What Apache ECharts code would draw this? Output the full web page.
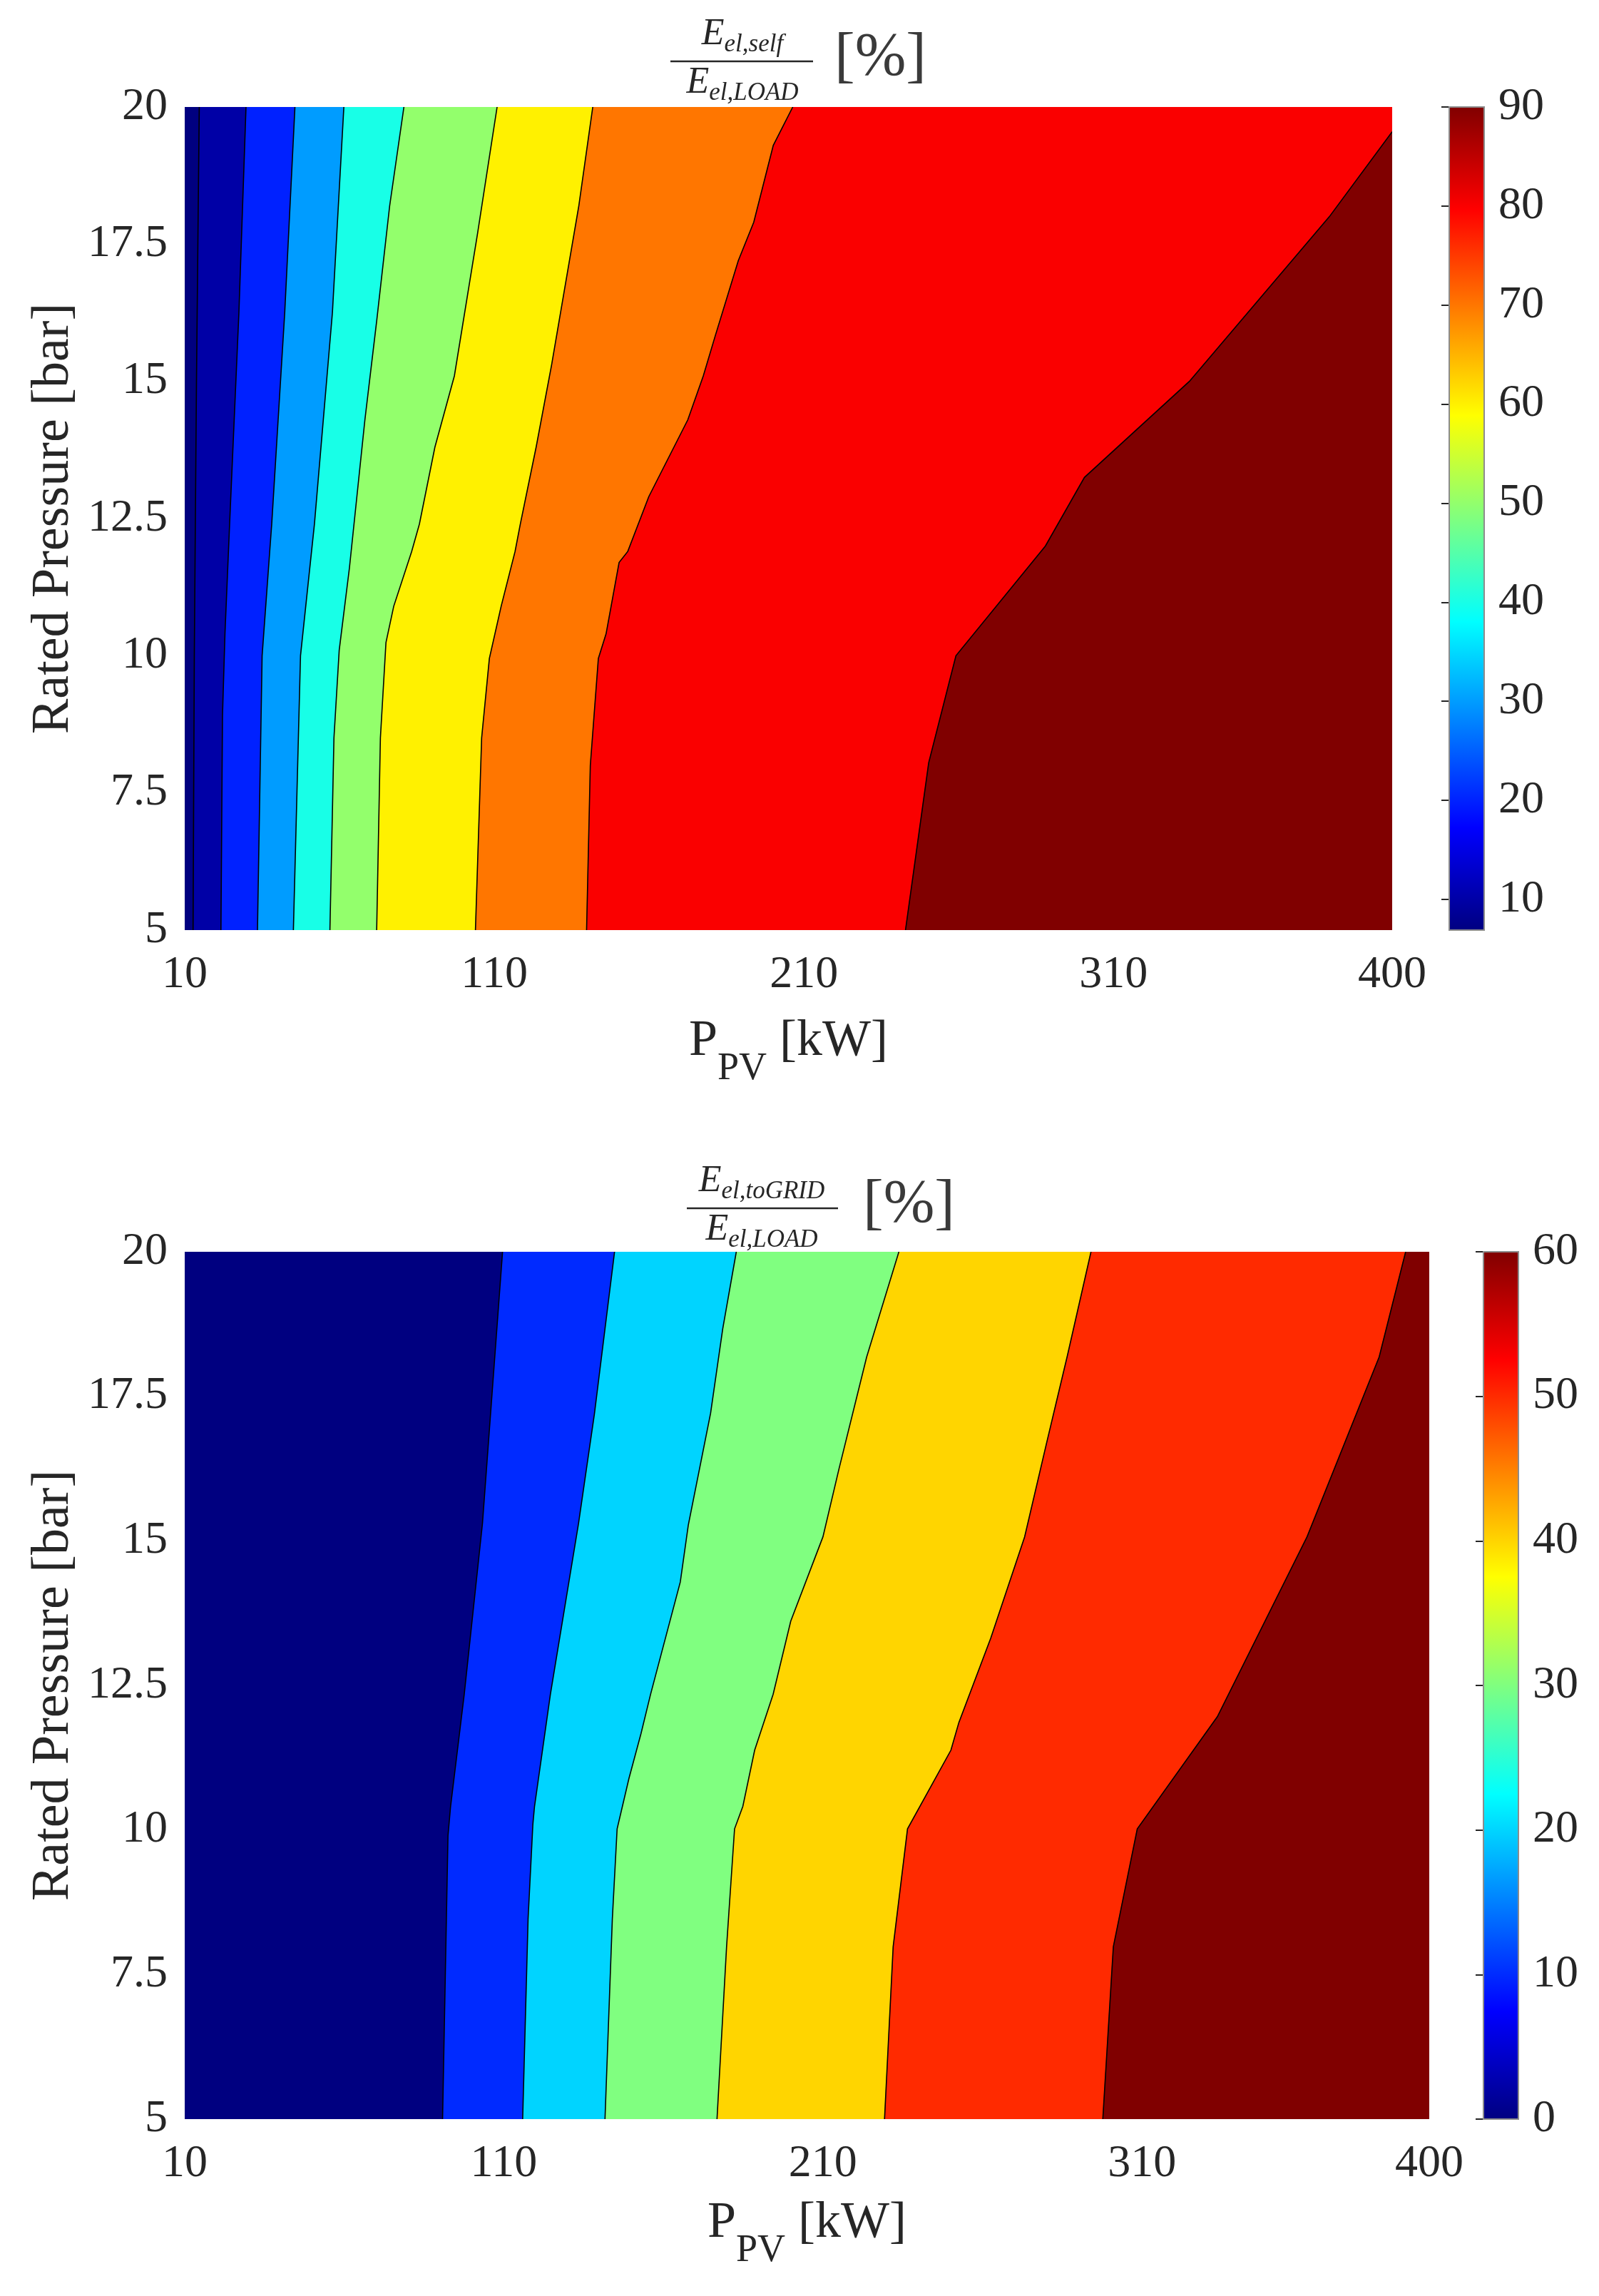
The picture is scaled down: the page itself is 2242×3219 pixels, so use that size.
<!DOCTYPE html>
<html><head><meta charset="utf-8">
<script src="https://cdn.jsdelivr.net/npm/echarts@6/dist/echarts.min.js"></script>
<style>html,body{margin:0;padding:0;background:#fff}#c{width:2242px;height:3219px}</style>
</head><body><div id="c"></div>
<script>
// ---------- axes ----------
const pvMin = 10, pvMax = 400;
const pvTicks = [10, 110, 210, 310, 400];
const pressureMin = 5, pressureMax = 20, pressureStep = 2.5;

// ---------- top plot: E_el,self / E_el,LOAD [%] ----------
const selfLevels = [10, 20, 30, 40, 50, 60, 70, 80, 90];
const selfColorRange = [6.9, 90];
const selfColorTicks = [10, 20, 30, 40, 50, 60, 70, 80, 90];
// contour lines as [P_PV kW, pressure bar], bottom -> top
const selfC10 = [[12.7,5],[13.1,10],[13.8,15],[14.7,20]];
const selfC20 = [[21.7,5],[22.2,8.9],[23.0,10.4],[24.5,12.4],[27.5,16.25],[29.8,20]];
const selfC30 = [[33.5,5],[35.0,10.0],[38.1,12.4],[42.3,16.25],[45.6,20]];
const selfC40 = [[45.1,5],[47.4,10.0],[51.9,12.4],[57.7,16.25],[61.4,20]];
const selfC50 = [[56.9,5],[58.2,8.5],[59.9,10.1],[63.2,11.6],[68.2,14.3],[72.0,16.1],[76.2,18.2],[80.8,20]];
const selfC60 = [[72.0,5],[73.2,8.5],[75.0,10.24],[77.5,10.9],[83.3,11.9],[85.8,12.4],[90.8,13.8],[97.1,15.1],[104.6,17.7],[110.9,20]];
const selfC70 = [[103.9,5],[105.9,8.5],[108.4,9.95],[112.2,10.9],[116.7,11.9],[118.4,12.4],[123.5,13.8],[128.5,15.3],[137.3,18.2],[141.8,20]];
const selfC80 = [[139.8,5],[141.0,8.0],[143.6,9.95],[146.1,10.4],[150.3,11.7],[153.1,11.9],[159.9,12.9],[172.5,14.3],[177.5,15.1],[181.2,15.8],[188.8,17.2],[193.8,17.9],[200.1,19.3],[206.4,20]];
const selfC90 = [[242.8,5],[250.3,8.05],[259.1,10.0],[288.0,12.0],[300.6,13.25],[334.5,15.0],[379.7,18.0],[400,19.55]];

// ---------- bottom plot: E_el,toGRID / E_el,LOAD [%] ----------
const gridLevels = [10, 20, 30, 40, 50, 60];
const gridColorRange = [0, 60];
const gridColorTicks = [0, 10, 20, 30, 40, 50, 60];
const gridC10 = [[90.8,5],[92.5,9.9],[93.3,10.4],[97.6,12.35],[103.3,15.3],[109.6,20]];
const gridC20 = [[115.9,5],[117.6,8.46],[119.1,10.1],[119.6,10.4],[124.6,12.35],[133.4,15.3],[138.4,17.2],[144.7,20]];
const gridC30 = [[141.7,5],[144.0,8.46],[145.5,10.02],[149.2,10.89],[153.0,11.67],[156.0,12.35],[165.3,14.29],[167.8,15.27],[174.8,17.21],[178.6,18.67],[182.85,20]];
const gridC40 = [[176.8,5],[179.8,7.98],[182.3,10.02],[184.9,10.41],[188.6,11.38],[194.4,12.35],[199.9,13.61],[210.0,15.07],[215.0,16.24],[223.7,18.18],[233.8,20]];
const gridC50 = [[229.3,5],[232.0,7.98],[236.5,10.02],[250.1,11.38],[252.6,11.86],[262.6,13.32],[273.2,15.07],[280.2,16.72],[286.5,18.18],[294.0,20]];
const gridC60 = [[297.7,5],[301.0,7.98],[308.5,10.02],[333.6,11.96],[361.7,15.07],[384.3,18.18],[392.6,20]];

const selfContours = [selfC10, selfC20, selfC30, selfC40, selfC50, selfC60, selfC70, selfC80, selfC90];
const gridContours = [gridC10, gridC20, gridC30, gridC40, gridC50, gridC60];

// ---------- styling ----------
const FONT = 'Liberation Serif';
const TXT = '#262626';

function clamp01(v){ return Math.max(0, Math.min(1, v)); }
function jet(f){
  f = clamp01(f);
  const r = clamp01(Math.min(4*f - 1.5, -4*f + 4.5));
  const g = clamp01(Math.min(4*f - 0.5, -4*f + 3.5));
  const b = clamp01(Math.min(4*f + 0.5, -4*f + 2.5));
  return 'rgb(' + Math.round(r*255) + ',' + Math.round(g*255) + ',' + Math.round(b*255) + ')';
}
const jetStops = [0, 0.125, 0.375, 0.625, 0.875, 1].map(o => ({offset: o, color: jet(o)}));

function contourSeries(axisIdx, contours, levels, range){
  const data = [[-1]].concat(contours.map((c, i) => [i]));
  return {
    type: 'custom', xAxisIndex: axisIdx, yAxisIndex: axisIdx, clip: true, silent: true,
    data: data,
    renderItem: function(params, api){
      const k = api.value(0);
      if (k < 0) {
        const rect = [[pvMin, pressureMin], [pvMin, pressureMax], [pvMax, pressureMax], [pvMax, pressureMin]];
        return {type: 'polygon', shape: {points: rect.map(p => api.coord(p))}, style: {fill: jet(0)}};
      }
      const line = contours[k];
      const poly = line.slice();
      const last = line[line.length - 1];
      if (last[1] >= pressureMax) poly.push([pvMax, pressureMax]);
      poly.push([pvMax, pressureMin]);
      const fill = jet((levels[k] - range[0]) / (range[1] - range[0]));
      return {type: 'group', children: [
        {type: 'polygon', shape: {points: poly.map(p => api.coord(p))}, style: {fill: fill, stroke: fill, lineWidth: 0.5}},
        {type: 'polyline', shape: {points: line.map(p => api.coord(p))}, style: {stroke: '#000', lineWidth: 1.6, fill: null}}
      ]};
    }
  };
}

function colorbarSeries(axisIdx, range){
  return {
    type: 'custom', xAxisIndex: axisIdx, yAxisIndex: axisIdx, silent: true,
    data: [[0]],
    renderItem: function(params, api){
      const p0 = api.coord([0, range[0]]);
      const p1 = api.coord([1, range[1]]);
      return {type: 'rect', shape: {x: p0[0], y: p1[1], width: p1[0] - p0[0], height: p0[1] - p1[1]},
        style: {fill: new echarts.graphic.LinearGradient(0, 1, 0, 0, jetStops), stroke: '#8c8c8c', lineWidth: 2}};
    }
  };
}

const labelStyle = {fontFamily: FONT, fontSize: 64, color: TXT};

function mainX(gridIndex, nameGap){
  return {
    type: 'value', gridIndex: gridIndex, min: pvMin, max: pvMax,
    axisLine: {show: false}, splitLine: {show: false},
    axisTick: {show: false, customValues: pvTicks},
    axisLabel: Object.assign({margin: 31, customValues: pvTicks}, labelStyle),
    name: '{p|P}{s|PV}{p| [kW]}', nameLocation: 'middle', nameGap: nameGap,
    nameTextStyle: {fontFamily: FONT, color: TXT, rich: {
      p: {fontFamily: FONT, fontSize: 72, color: TXT, verticalAlign: 'bottom', padding: [0, 0, 30, 0]},
      s: {fontFamily: FONT, fontSize: 54, color: TXT, verticalAlign: 'bottom'}
    }}
  };
}
function mainY(gridIndex){
  return {
    type: 'value', gridIndex: gridIndex, min: pressureMin, max: pressureMax, interval: pressureStep,
    axisLine: {show: false}, splitLine: {show: false}, axisTick: {show: false},
    axisLabel: Object.assign({margin: 24}, labelStyle),
    name: 'Rated Pressure [bar]', nameLocation: 'middle', nameGap: 142, nameRotate: 90,
    nameTextStyle: {fontFamily: FONT, fontSize: 74, color: TXT}
  };
}
function cbX(gridIndex){
  return {type: 'value', gridIndex: gridIndex, min: 0, max: 1, show: false};
}
function cbY(gridIndex, range, ticks){
  return {
    type: 'value', gridIndex: gridIndex, min: range[0], max: range[1], position: 'right',
    axisLine: {show: false}, splitLine: {show: false},
    axisTick: {show: true, inside: true, length: 11, customValues: ticks, lineStyle: {color: '#262626', width: 2}},
    axisLabel: Object.assign({margin: 20, customValues: ticks}, labelStyle)
  };
}

function fracTitle(cx, barY, barX1, barX2, numSub, pctX){
  const rich = {
    e: {fontFamily: FONT, fontStyle: 'italic', fontSize: 52, fill: TXT, color: TXT, verticalAlign: 'bottom', padding: [0, 0, 6, 0]},
    s: {fontFamily: FONT, fontStyle: 'italic', fontSize: 35, fill: TXT, color: TXT, verticalAlign: 'bottom'}
  };
  return [
    {type: 'text', x: cx, y: barY - 6, style: {text: '{e|E}{s|' + numSub + '}', rich: rich, align: 'center', verticalAlign: 'bottom'}},
    {type: 'line', shape: {x1: barX1, y1: barY, x2: barX2, y2: barY}, style: {stroke: TXT, lineWidth: 2.5}},
    {type: 'text', x: cx, y: barY + 4, style: {text: '{e|E}{s|el,LOAD}', rich: rich, align: 'center', verticalAlign: 'top'}},
    {type: 'text', x: pctX, y: barY - 4, style: {text: '[%]', fontFamily: FONT, fontSize: 86, fill: '#3a3a3a', align: 'left', verticalAlign: 'middle'}}
  ];
}

const chart = echarts.init(document.getElementById('c'), null, {renderer: 'canvas'});
chart.setOption({
  backgroundColor: '#fff',
  animation: false,
  grid: [
    {left: 259, top: 150, width: 1693, height: 1154},
    {left: 2032, top: 150, width: 49, height: 1154},
    {left: 259, top: 1755, width: 1745, height: 1216},
    {left: 2080, top: 1755, width: 49, height: 1216}
  ],
  xAxis: [mainX(0, 120), cbX(1), mainX(2, 110), cbX(3)],
  yAxis: [mainY(0), cbY(1, selfColorRange, selfColorTicks), mainY(2), cbY(3, gridColorRange, gridColorTicks)],
  series: [
    contourSeries(0, selfContours, selfLevels, selfColorRange),
    colorbarSeries(1, selfColorRange),
    contourSeries(2, gridContours, gridLevels, gridColorRange),
    colorbarSeries(3, gridColorRange)
  ],
  graphic: [].concat(
    fracTitle(1041, 86, 940, 1140, 'el,self', 1170),
    fracTitle(1068, 1694, 963, 1175, 'el,toGRID', 1210)
  )
});
</script></body></html>
